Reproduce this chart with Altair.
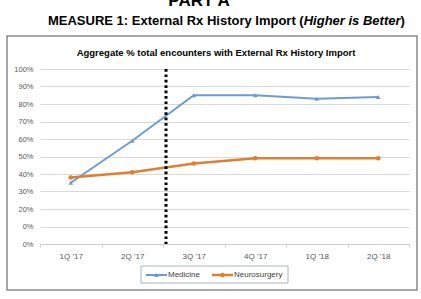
import altair as alt
import pandas as pd

# ---- data ----
quarters = ["1Q '17", "2Q '17", "3Q '17", "4Q '17", "1Q '18", "2Q '18"]
medicine = [35, 59, 85, 85, 83, 84]
neurosurgery = [38, 41, 46, 49, 49, 49]
series = ["Medicine", "Neurosurgery"]
colors = ["#6f9bd4", "#e07e32"]
y_ticks = [0, 10, 20, 30, 40, 50, 60, 70, 80, 90, 100]
intervention_quarter = "3Q '17"

title_main = "MEASURE 1: External Rx History Import ("
title_ital = "Higher is Better"
title_end = ")"
part_title = "PART A"
chart_title = "Aggregate % total encounters with External Rx History Import"

# ---- layout (absolute page px -> plot-relative) ----
PL, PT = 40, 69
W, H = 369, 175
def ax(x):
    return x - PL
def ay(y):
    return y - PT

FONT = "Liberation Sans"

df = pd.DataFrame({
    "quarter": quarters * 2,
    "value": medicine + neurosurgery,
    "series": [series[0]] * len(quarters) + [series[1]] * len(quarters),
})

xenc = alt.X("quarter:N", sort=quarters, scale=alt.Scale(paddingInner=0, paddingOuter=0),
             axis=alt.Axis(title=None, labelAngle=0, tickBand="extent", domainColor="#d0d0d0",
                           tickColor="#d0d0d0", tickSize=3, labelPadding=5, labelFontSize=8,
                           labelColor="#595959", labelFont=FONT, grid=False))
yenc = alt.Y("value:Q", scale=alt.Scale(domain=[0, 100], nice=False, zero=True),
             axis=alt.Axis(title=None, values=y_ticks, tickCount=11, domain=False, ticks=False,
                           labelOverlap=False, grid=True,
                           labelExpr="datum.value == 10 ? '0%' : datum.value + '%'",
                           gridColor="#d9d9d9", labelPadding=7, labelFontSize=7.5,
                           labelColor="#595959", labelFont=FONT))
cenc = alt.Color("series:N", scale=alt.Scale(domain=series, range=colors), legend=None)

base = alt.Chart(df)
frame_df = pd.DataFrame({"k": [0]})
frame = alt.Chart(frame_df).mark_rect(fillOpacity=0, stroke="#8a8a8a", strokeWidth=1.5).encode(
    x=alt.value(ax(7)), x2=alt.value(ax(417)), y=alt.value(ay(36)), y2=alt.value(ay(290)))

def sel(i):
    return base.transform_filter(alt.datum.series == series[i])

lines1 = sel(0).mark_line(strokeWidth=2).encode(x=xenc, y=yenc, color=cenc)
lines2 = sel(1).mark_line(strokeWidth=2.5).encode(x=xenc, y=yenc, color=cenc)
pts1 = sel(0).mark_point(shape="triangle-up", filled=True, size=22, opacity=1).encode(
    x=xenc, y=yenc, color=cenc)
pts2 = sel(1).mark_point(shape="circle", filled=True, size=22, opacity=1).encode(
    x=xenc, y=yenc, color=cenc)

vline = alt.Chart(pd.DataFrame({"quarter": [intervention_quarter]})).mark_rule(
    color="black", strokeWidth=3, strokeDash=[2.7, 2.7], xOffset=3).encode(
    x=alt.X("quarter:N", sort=quarters, bandPosition=0))

def text_layer(txt, x, y, size, align="center", baseline="alphabetic", style="normal", weight="bold", color="black"):
    return alt.Chart(pd.DataFrame({"t": [txt]})).mark_text(
        font=FONT, fontSize=size, fontWeight=weight, fontStyle=style, align=align,
        baseline=baseline, color=color).encode(
        x=alt.value(ax(x)), y=alt.value(ay(y)), text="t:N")

TS = 13
texts = [
    text_layer(part_title, 199, 6, 17),
    text_layer(title_main, 303.7, 25, TS, align="right"),
    text_layer(title_ital, 303.7, 25, TS, align="left", style="italic"),
    text_layer(title_end, 400.5, 25, TS, align="left"),
    text_layer(chart_title, 216, 56, 9.5),
]

# legend (manual)
leg_frame = alt.Chart(frame_df).mark_rect(fillOpacity=0, stroke="#a9b4c2", strokeWidth=1).encode(
    x=alt.value(ax(141)), x2=alt.value(ax(288)), y=alt.value(ay(266)), y2=alt.value(ay(283)))
leg_x0 = [146, 212]
legend_layers = [leg_frame]
ly = 275
for i, name in enumerate(series):
    x0 = leg_x0[i]
    d = pd.DataFrame({"series": [name]})
    legend_layers.append(alt.Chart(d).mark_rule(strokeWidth=2 if i == 0 else 2.5).encode(
        x=alt.value(ax(x0)), x2=alt.value(ax(x0 + 21)), y=alt.value(ay(ly)), color=cenc))
    legend_layers.append(alt.Chart(d).mark_point(
        shape="triangle-up" if i == 0 else "circle", filled=True, size=20, opacity=1).encode(
        x=alt.value(ax(x0 + 10.5)), y=alt.value(ay(ly)), color=cenc))
    legend_layers.append(alt.Chart(d).mark_text(font=FONT, fontSize=8, align="left",
                                                baseline="middle", color="#404040").encode(
        x=alt.value(ax(x0 + 22)), y=alt.value(ay(ly)), text="series:N"))

chart = alt.layer(frame, lines1, lines2, pts1, pts2, vline, *texts, *legend_layers).properties(
    width=W, height=H,
    autosize=alt.AutoSizeParams(type="none"),
    padding={"left": PL, "top": PT, "right": 421 - PL - W, "bottom": 299 - PT - H},
    background="white",
).configure_view(stroke=None)

chart.save("out.html", embed_options={"renderer": "svg", "actions": False})
